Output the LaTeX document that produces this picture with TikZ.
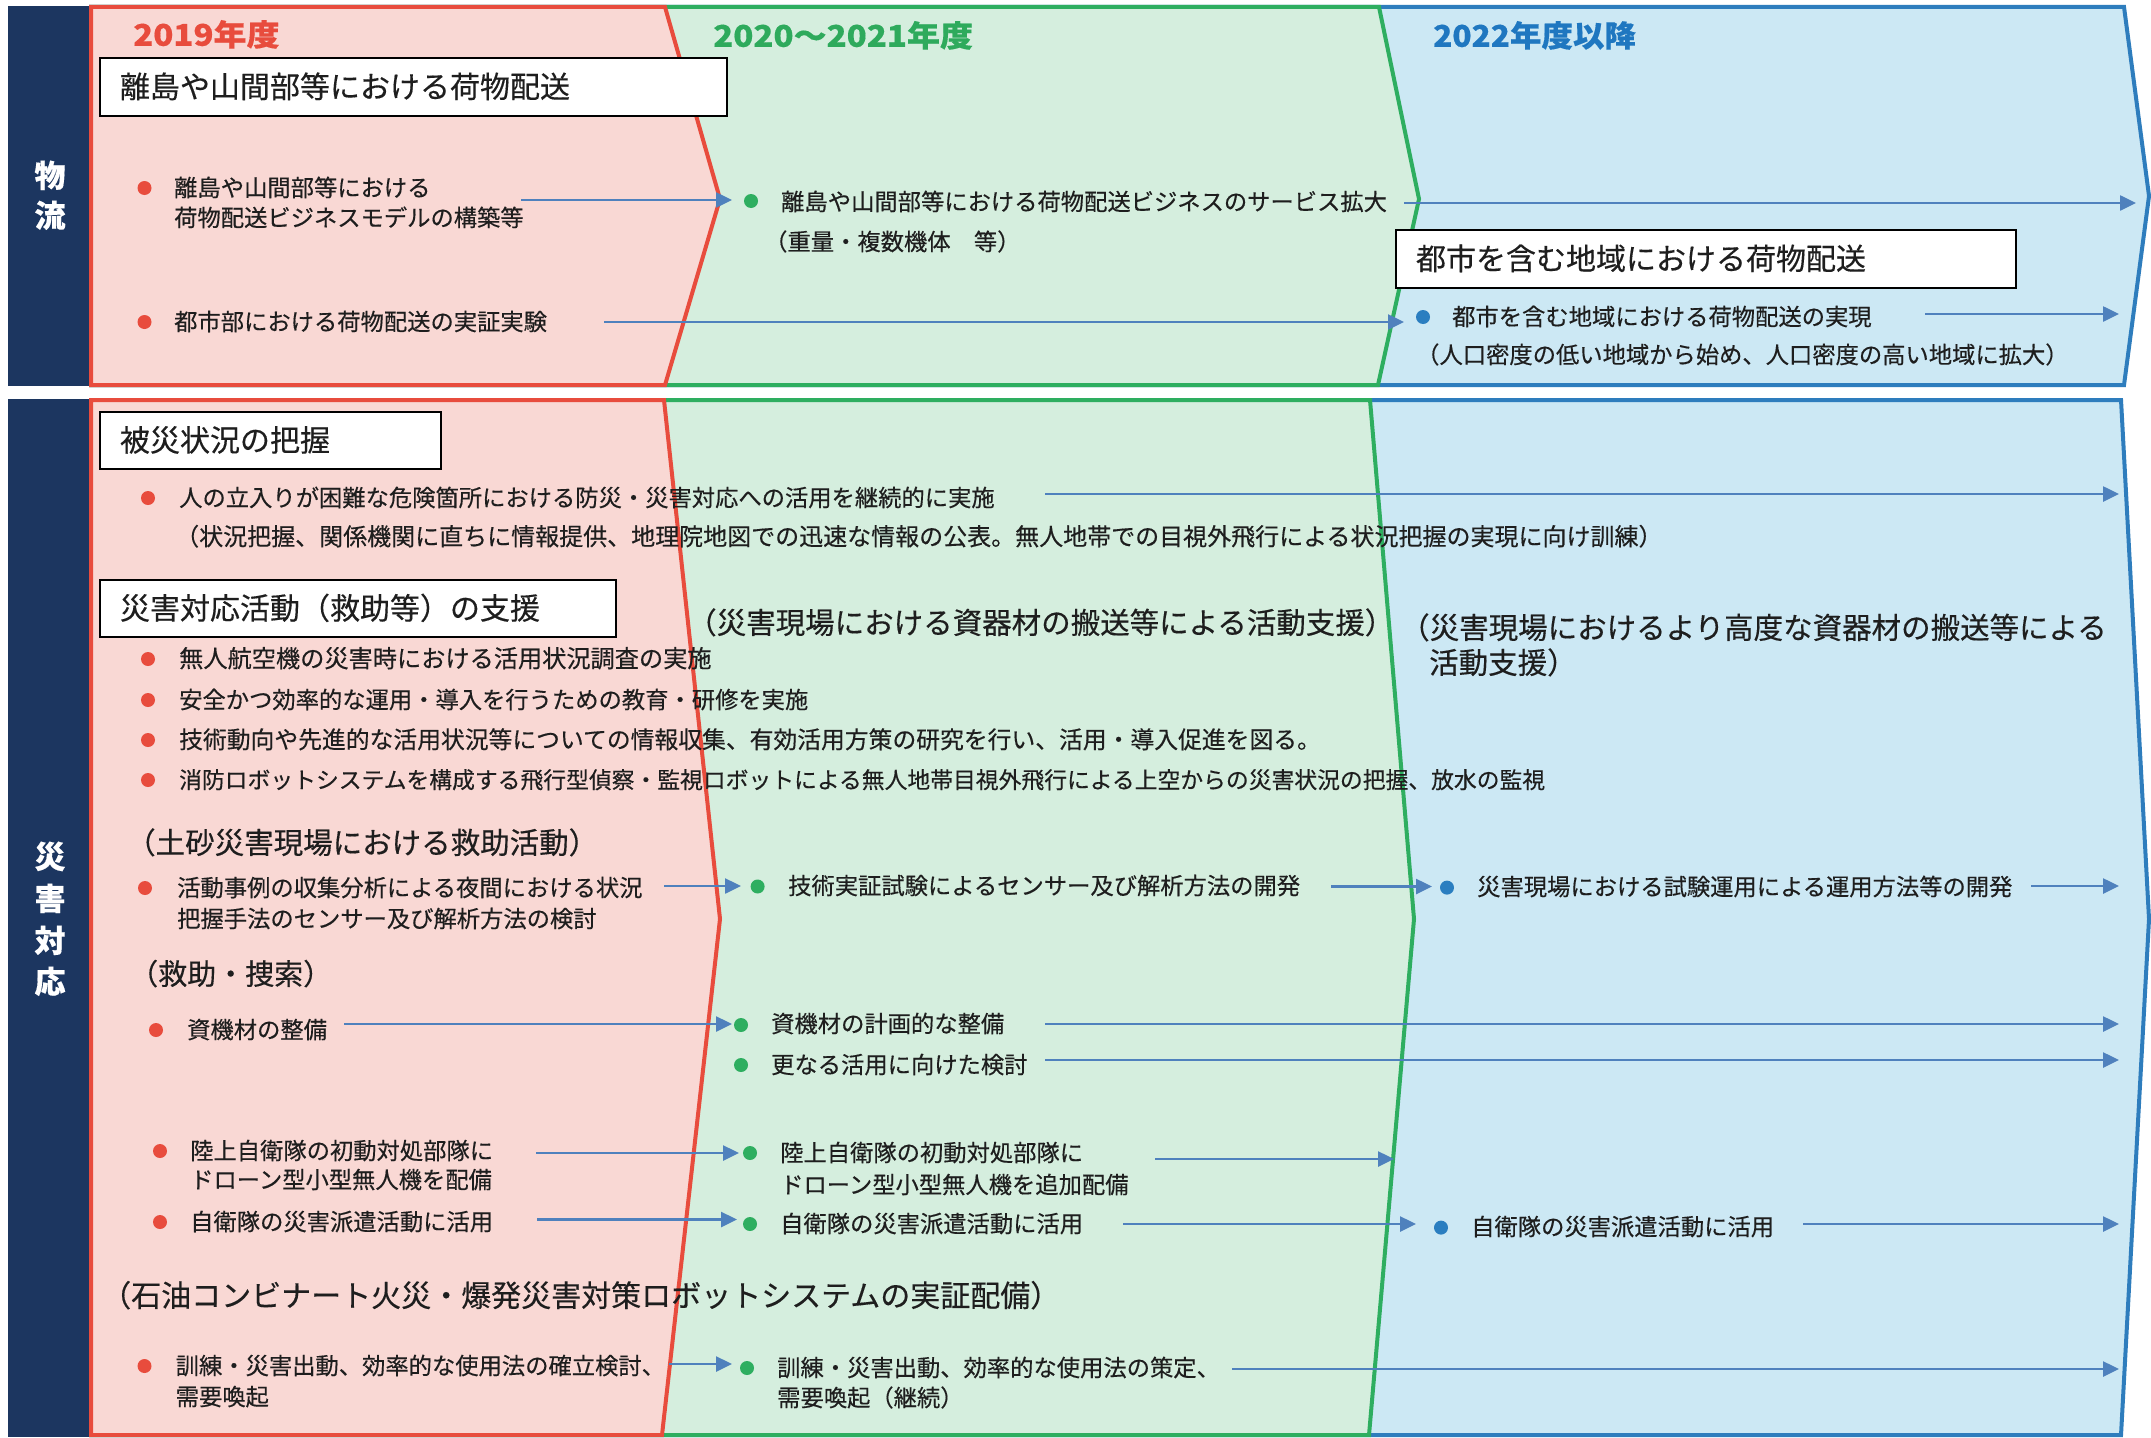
\documentclass[tikz,border=0pt]{standalone}
\usepackage{fontspec}
\setmainfont{Noto Sans CJK JP}[FakeBold=0.35]
\usetikzlibrary{arrows.meta}
\definecolor{navy}{HTML}{1C3660}
\definecolor{redfill}{HTML}{F9D8D4}
\definecolor{redline}{HTML}{E84C3D}
\definecolor{greenfill}{HTML}{D5EEDE}
\definecolor{greenline}{HTML}{2EAE60}
\definecolor{bluefill}{HTML}{CCE8F4}
\definecolor{blueline}{HTML}{2E7DBD}
\definecolor{arrc}{HTML}{4F81BD}
\definecolor{txtc}{HTML}{1E1E1E}
\definecolor{yred}{HTML}{E84C3D}
\definecolor{ygreen}{HTML}{2EAA5C}
\definecolor{yblue}{HTML}{1F77C0}
\definecolor{bdotc}{HTML}{2A7EC0}
\begin{document}
\begin{tikzpicture}[x=1pt,y=-1pt,
  region/.style={line width=4pt, line join=miter},
  txt/.style={anchor=west, inner sep=0pt, text=txtc, font=\fontsize{23.3}{28}\selectfont, text height=18.6pt, text depth=1.9pt},
  hd/.style={txt, font=\fontsize{29.5}{35}\selectfont, text height=23.6pt, text depth=2.4pt},
  year/.style={anchor=west, inner sep=0pt, font=\bfseries\fontsize{30}{36}\selectfont, text height=24pt, text depth=2.4pt},
  side/.style={inner sep=0pt, text=white, font=\bfseries\fontsize{31}{36}\selectfont, text height=24.8pt, text depth=2.5pt},
  tbox/.style={draw=black, line width=2.5pt, fill=white, anchor=north west, outer sep=0pt, inner ysep=0pt, inner xsep=20pt, align=left, text=txtc, font=\fontsize{30}{36}\selectfont, text height=24pt, text depth=2.4pt},
  rdot/.style={circle, fill=redline, minimum size=14pt, inner sep=0pt},
  gdot/.style={circle, fill=greenline, minimum size=14pt, inner sep=0pt},
  bdot/.style={circle, fill=bdotc, minimum size=14pt, inner sep=0pt},
  arr/.style={draw=arrc, line width=2.5pt, -{Triangle[length=16pt,width=15pt]}}
]
\useasboundingbox (0,0) rectangle (2151,1437);
\fill[white] (0,0) rectangle (2151,1437);

% ---------- top section: regions ----------
\fill[navy] (8,6) rectangle (89,386);
\filldraw[region, fill=bluefill, draw=blueline] (91,7) -- (2124,7) -- (2149,196) -- (2124,385) -- (91,385) -- cycle;
\filldraw[region, fill=greenfill, draw=greenline] (91,7) -- (1379,7) -- (1419,199) -- (1378,385) -- (91,385) -- cycle;
\filldraw[region, fill=redfill, draw=redline] (91,7) -- (665,7) -- (720,199) -- (665,385) -- (91,385) -- cycle;

% ---------- bottom section: regions ----------
\fill[navy] (8,399) rectangle (89,1437);
\filldraw[region, fill=bluefill, draw=blueline] (91,400) -- (2121,400) -- (2149,919) -- (2121,1435) -- (91,1435) -- cycle;
\filldraw[region, fill=greenfill, draw=greenline] (91,400) -- (1370,400) -- (1414,919) -- (1369,1435) -- (91,1435) -- cycle;
\filldraw[region, fill=redfill, draw=redline] (91,400) -- (664,400) -- (720,919) -- (662,1435) -- (91,1435) -- cycle;

% ---------- side labels ----------
\node[side] (s1) at (50,176) {物};
\node[side] (s2) at (50,216) {流};
\node[side] (s3) at (50,857) {災};
\node[side] (s4) at (50,899) {害};
\node[side] (s5) at (50,941) {対};
\node[side] (s6) at (50,982) {応};

% ---------- year labels ----------
\node[year, text=yred] (y1) at (133,35) {\scalebox{1.1}[1]{2019年度}};
\node[year, text=ygreen] (y2) at (713,36) {\scalebox{1.1}[1]{2020～2021年度}};
\node[year, text=yblue] (y3) at (1433,36) {\scalebox{1.05}[1]{2022年度以降}};

% ---------- top section content ----------
\node[tbox, text width=587pt, minimum height=58pt] (box1) at (100,58) {離島や山間部等における荷物配送};

\node[rdot] (rd1) at (144.5,188) {};
\node[txt] (r1a) at (174,188) {離島や山間部等における};
\node[txt] (r1b) at (174,218) {荷物配送ビジネスモデルの構築等};
\coordinate (a1s) at (521,200); \coordinate (a1e) at (732,200);
\draw[arr] (a1s) -- (a1e);

\node[gdot] (gd1) at (751,201) {};
\node[txt] (g1a) at (781,202) {離島や山間部等における荷物配送ビジネスのサービス拡大};
\node[txt] (g1b) at (764,242) {（重量・複数機体　等）};
\coordinate (a2s) at (1404,203); \coordinate (a2e) at (2136,203);
\draw[arr] (a2s) -- (a2e);

\node[rdot] (rd2) at (144.5,322) {};
\node[txt] (r2) at (174,322) {都市部における荷物配送の実証実験};
\coordinate (a3s) at (604,322); \coordinate (a3e) at (1404,322);
\draw[arr] (a3s) -- (a3e);

\node[tbox, text width=580pt, minimum height=58pt] (box2) at (1396,230) {都市を含む地域における荷物配送};
\node[bdot] (bd1) at (1423,317) {};
\node[txt] (b1a) at (1452,317) {都市を含む地域における荷物配送の実現};
\coordinate (a4s) at (1925,314); \coordinate (a4e) at (2119,314);
\draw[arr] (a4s) -- (a4e);
\node[txt] (b1b) at (1416,355) {（人口密度の低い地域から始め、人口密度の高い地域に拡大）};

% ---------- bottom section content ----------
\node[tbox, text width=301pt, minimum height=57pt] (box3) at (100,412) {被災状況の把握};
\node[rdot] (rd3) at (148,498) {};
\node[txt] (r3) at (179,498) {人の立入りが困難な危険箇所における防災・災害対応への活用を継続的に実施};
\coordinate (a5s) at (1045,494); \coordinate (a5e) at (2119,494);
\draw[arr] (a5s) -- (a5e);
\node[txt, font=\fontsize{24}{28}\selectfont] (r3b) at (175,537) {（状況把握、関係機関に直ちに情報提供、地理院地図での迅速な情報の公表。無人地帯での目視外飛行による状況把握の実現に向け訓練）};

\node[tbox, text width=476pt, minimum height=57pt] (box4) at (100,580) {災害対応活動（救助等）の支援};
\node[hd] (h1) at (687,623) {（災害現場における資器材の搬送等による活動支援）};
\node[hd] (h2a) at (1400,628) {（災害現場におけるより高度な資器材の搬送等による};
\node[hd] (h2b) at (1429,663) {活動支援）};

\node[rdot] (rd4) at (148,659) {};
\node[txt, font=\fontsize{24.2}{28}\selectfont] (r4) at (179,659) {無人航空機の災害時における活用状況調査の実施};
\node[rdot] (rd5) at (148,700) {};
\node[txt] (r5) at (179,700) {安全かつ効率的な運用・導入を行うための教育・研修を実施};
\node[rdot] (rd6) at (148,740) {};
\node[txt, font=\fontsize{23.8}{28}\selectfont] (r6) at (179,740) {技術動向や先進的な活用状況等についての情報収集、有効活用方策の研究を行い、活用・導入促進を図る。};
\node[rdot] (rd7) at (148,780) {};
\node[txt, font=\fontsize{22.8}{28}\selectfont] (r7) at (179,780) {消防ロボットシステムを構成する飛行型偵察・監視ロボットによる無人地帯目視外飛行による上空からの災害状況の把握、放水の監視};

\node[hd] (h3) at (126,843) {（土砂災害現場における救助活動）};
\node[rdot] (rd8) at (145,888) {};
\node[txt] (r8a) at (177,888) {活動事例の収集分析による夜間における状況};
\node[txt] (r8b) at (177,919) {把握手法のセンサー及び解析方法の検討};
\coordinate (a6s) at (664,886); \coordinate (a6e) at (741,886);
\draw[arr] (a6s) -- (a6e);
\node[gdot] (gd2) at (757.6,886.5) {};
\node[txt] (g2) at (788,886) {技術実証試験によるセンサー及び解析方法の開発};
\coordinate (a7s) at (1331,886.5); \coordinate (a7e) at (1432,886.5);
\draw[arr] (a7s) -- (a7e);
\node[bdot] (bd2) at (1447,887.6) {};
\node[txt] (b2) at (1477,887) {災害現場における試験運用による運用方法等の開発};
\coordinate (a8s) at (2031,886); \coordinate (a8e) at (2119,886);
\draw[arr] (a8s) -- (a8e);

\node[hd, font=\fontsize{29}{35}\selectfont] (h4) at (129,974) {（救助・捜索）};
\node[rdot] (rd9) at (156,1030) {};
\node[txt] (r9) at (187,1030) {資機材の整備};
\coordinate (a9s) at (344,1024); \coordinate (a9e) at (732,1024);
\draw[arr] (a9s) -- (a9e);
\node[gdot] (gd3) at (741,1025) {};
\node[txt] (g3) at (771,1024) {資機材の計画的な整備};
\coordinate (a10s) at (1045,1024); \coordinate (a10e) at (2119,1024);
\draw[arr] (a10s) -- (a10e);
\node[gdot] (gd4) at (741,1065) {};
\node[txt] (g4) at (771,1065) {更なる活用に向けた検討};
\coordinate (a11s) at (1045,1060); \coordinate (a11e) at (2119,1060);
\draw[arr] (a11s) -- (a11e);

\node[rdot] (rd10) at (160,1151) {};
\node[txt] (r10a) at (190,1151) {陸上自衛隊の初動対処部隊に};
\node[txt] (r10b) at (190,1180) {ドローン型小型無人機を配備};
\coordinate (a12s) at (536,1153); \coordinate (a12e) at (739,1153);
\draw[arr] (a12s) -- (a12e);
\node[gdot] (gd5) at (750,1153) {};
\node[txt] (g5a) at (780,1153) {陸上自衛隊の初動対処部隊に};
\node[txt] (g5b) at (780,1185) {ドローン型小型無人機を追加配備};
\coordinate (a13s) at (1155,1159); \coordinate (a13e) at (1394,1159);
\draw[arr] (a13s) -- (a13e);

\node[rdot] (rd11) at (160,1222) {};
\node[txt] (r11) at (190,1222) {自衛隊の災害派遣活動に活用};
\coordinate (a14s) at (537,1219.5); \coordinate (a14e) at (737,1219.5);
\draw[arr] (a14s) -- (a14e);
\node[gdot] (gd6) at (750,1224) {};
\node[txt] (g6) at (780,1224) {自衛隊の災害派遣活動に活用};
\coordinate (a15s) at (1123,1224); \coordinate (a15e) at (1416,1224);
\draw[arr] (a15s) -- (a15e);
\node[bdot] (bd3) at (1441,1227.6) {};
\node[txt] (b3) at (1471,1227) {自衛隊の災害派遣活動に活用};
\coordinate (a16s) at (1803,1224); \coordinate (a16e) at (2119,1224);
\draw[arr] (a16s) -- (a16e);

\node[hd, font=\fontsize{30}{35}\selectfont] (h5) at (101,1296) {（石油コンビナート火災・爆発災害対策ロボットシステムの実証配備）};
\node[rdot] (rd12) at (144.5,1366) {};
\node[txt] (r12a) at (175.5,1366) {訓練・災害出動、効率的な使用法の確立検討、};
\node[txt] (r12b) at (175.5,1397) {需要喚起};
\coordinate (a17s) at (669,1364); \coordinate (a17e) at (732,1364);
\draw[arr] (a17s) -- (a17e);
\node[gdot] (gd7) at (747,1368) {};
\node[txt] (g7a) at (777,1368) {訓練・災害出動、効率的な使用法の策定、};
\node[txt] (g7b) at (777,1398) {需要喚起（継続）};
\coordinate (a18s) at (1232,1369); \coordinate (a18e) at (2119,1369);
\draw[arr] (a18s) -- (a18e);
\end{tikzpicture}
\end{document}
